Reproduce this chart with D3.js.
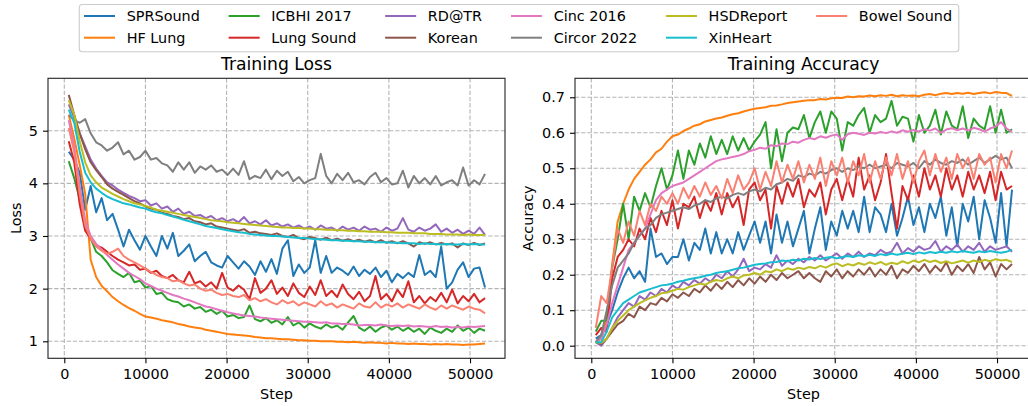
<!DOCTYPE html>
<html>
<head>
<meta charset="utf-8">
<script src="https://cdn.jsdelivr.net/npm/d3@7"></script>
<style>
  body { margin: 0; background: #fff; }
  svg { display: block; }
  text { font-family: "DejaVu Sans", sans-serif; fill: #000; }
</style>
</head>
<body>
<svg id="chart" width="1028" height="406"></svg>
<script>
// logged training steps (shared by all series)
const steps = [550,1225,1900,2575,3250,3925,4600,5275,5950,6625,
  7300,7975,8650,9325,10000,10675,11350,12025,12700,13375,
  14050,14725,15400,16075,16750,17425,18100,18775,19450,20125,
  20800,21475,22150,22825,23500,24175,24850,25525,26200,26875,
  27550,28225,28900,29575,30250,30925,31600,32275,32950,33625,
  34300,34975,35650,36325,37000,37675,38350,39025,39700,40375,
  41050,41725,42400,43075,43750,44425,45100,45775,46450,47125,
  47800,48475,49150,49825,50500,51175,51850];

const datasets = ["SPRSound", "HF Lung", "ICBHI 2017", "Lung Sound", "RD@TR", "Korean",
  "Cinc 2016", "Circor 2022", "HSDReport", "XinHeart", "Bowel Sound"];
const colors = ["#1f77b4", "#ff7f0e", "#2ca02c", "#d62728", "#9467bd", "#8c564b",
  "#e377c2", "#7f7f7f", "#bcbd22", "#17becf", "#fa8072"];

const stepTicks = [0, 10000, 20000, 30000, 40000, 50000];
const lossTicks = [1, 2, 3, 4, 5];
const accTicks = [0, 0.1, 0.2, 0.3, 0.4, 0.5, 0.6, 0.7];

// ---- training loss ----
const lossSpr = [4.60,4.45,4.20,3.50,3.95,3.45,3.72,3.30,3.42,3.12,
  2.80,3.12,2.92,2.74,3.00,2.80,2.62,3.00,2.76,3.06,
  2.62,2.72,2.84,2.52,2.62,2.70,2.50,2.44,2.40,2.62,
  2.50,2.38,2.52,2.42,2.26,2.52,2.32,2.56,2.28,2.76,
  2.92,2.24,2.46,2.30,2.40,2.92,2.30,2.62,2.30,2.40,
  2.34,2.26,2.42,2.24,2.36,2.28,2.40,2.22,2.34,2.12,
  2.28,2.20,2.30,2.22,2.64,2.26,2.34,2.22,2.80,2.00,
  2.12,2.36,2.50,2.22,2.38,2.40,2.02];
const lossHf = [5.30,4.85,4.35,3.80,2.55,2.22,2.05,1.95,1.84,1.76,
  1.69,1.63,1.58,1.52,1.47,1.45,1.43,1.40,1.38,1.36,
  1.33,1.31,1.28,1.26,1.25,1.22,1.20,1.18,1.16,1.14,
  1.13,1.12,1.11,1.10,1.08,1.07,1.06,1.06,1.05,1.04,
  1.04,1.03,1.02,1.02,1.01,1.01,1.00,1.00,1.00,0.99,
  0.99,0.98,0.99,0.98,0.97,0.98,0.97,0.97,0.96,0.97,
  0.96,0.96,0.95,0.96,0.95,0.95,0.94,0.95,0.94,0.95,
  0.94,0.94,0.93,0.94,0.94,0.95,0.96];
const lossIcbhi = [4.42,4.10,3.70,3.15,2.95,2.70,2.62,2.50,2.35,2.28,
  2.22,2.30,2.12,2.15,2.02,2.05,1.90,1.92,1.80,1.76,
  1.74,1.66,1.70,1.62,1.65,1.56,1.60,1.52,1.58,1.47,
  1.50,1.44,1.46,1.68,1.42,1.38,1.44,1.35,1.40,1.32,
  1.46,1.30,1.36,1.26,1.34,1.28,1.24,1.32,1.26,1.30,
  1.22,1.36,1.48,1.26,1.20,1.28,1.18,1.26,1.30,1.22,
  1.28,1.20,1.26,1.18,1.24,1.14,1.26,1.20,1.16,1.24,
  1.18,1.30,1.20,1.26,1.16,1.24,1.20];
const lossLung = [4.80,4.40,3.60,3.10,2.95,2.82,2.78,2.70,2.62,2.55,
  2.50,2.44,2.46,2.36,2.38,2.30,2.34,2.24,2.20,2.26,
  2.16,2.12,2.32,2.10,2.14,2.04,2.12,2.00,2.30,2.02,
  1.96,2.06,1.98,1.80,2.20,1.92,2.00,2.16,1.90,2.02,
  1.86,2.10,1.92,1.84,2.04,1.88,2.16,1.86,1.96,1.84,
  2.08,1.90,1.80,1.94,1.76,1.86,2.24,1.80,1.90,1.76,
  1.98,1.84,2.14,1.74,1.86,1.72,1.84,1.76,1.92,1.74,
  1.98,1.72,1.86,1.76,1.90,1.74,1.82];
const lossRd = [5.50,5.25,4.95,4.70,4.45,4.28,4.14,4.02,3.96,3.88,
  3.82,3.76,3.72,3.66,3.68,3.58,3.62,3.52,3.56,3.46,
  3.52,3.42,3.46,3.38,3.40,3.34,3.38,3.30,3.34,3.28,
  3.32,3.26,3.36,3.24,3.28,3.22,3.30,3.20,3.24,3.18,
  3.22,3.16,3.20,3.14,3.18,3.12,3.20,3.14,3.16,3.10,
  3.18,3.12,3.16,3.10,3.18,3.12,3.14,3.08,3.16,3.10,
  3.14,3.34,3.12,3.08,3.16,3.10,3.14,3.22,3.08,3.14,
  3.06,3.12,3.04,3.10,3.04,3.16,3.02];
const lossKorean = [5.68,5.30,4.95,4.65,4.40,4.25,4.12,3.98,3.90,3.84,
  3.78,3.72,3.66,3.62,3.56,3.52,3.50,3.44,3.42,3.38,
  3.36,3.32,3.34,3.28,3.26,3.22,3.24,3.18,3.16,3.14,
  3.12,3.10,3.13,3.06,3.08,3.05,3.04,3.02,3.05,3.00,
  2.98,3.02,2.96,2.94,2.98,2.96,2.93,2.97,2.92,2.95,
  2.91,2.94,2.90,2.93,2.89,2.92,2.88,2.92,2.87,2.90,
  2.86,2.90,2.86,2.80,2.88,2.85,2.88,2.84,2.87,2.84,
  2.86,2.78,2.86,2.83,2.87,2.83,2.86];
const lossCinc = [5.20,4.70,3.95,3.30,3.00,2.85,2.74,2.64,2.55,2.46,
  2.38,2.30,2.24,2.18,2.10,2.05,2.00,1.96,1.92,1.88,
  1.85,1.81,1.78,1.74,1.70,1.66,1.64,1.61,1.58,1.55,
  1.53,1.51,1.49,1.48,1.47,1.45,1.44,1.43,1.42,1.41,
  1.40,1.39,1.38,1.37,1.37,1.36,1.35,1.36,1.34,1.34,
  1.33,1.33,1.32,1.30,1.31,1.31,1.30,1.32,1.30,1.29,
  1.30,1.29,1.30,1.28,1.29,1.28,1.27,1.29,1.27,1.28,
  1.26,1.27,1.26,1.28,1.27,1.28,1.29];
const lossCircor = [5.30,5.20,5.15,5.22,4.95,4.78,4.72,4.62,4.68,4.78,
  4.55,4.62,4.45,4.50,4.62,4.45,4.48,4.38,4.34,4.22,
  4.40,4.26,4.40,4.20,4.32,4.26,4.34,4.22,4.26,4.16,
  4.28,4.16,4.42,4.08,4.14,4.10,4.26,4.08,4.24,4.14,
  4.22,4.04,4.12,4.00,4.06,4.10,4.56,4.14,4.00,4.18,
  4.06,4.20,4.02,4.06,3.98,4.12,4.20,4.02,4.10,3.98,
  4.00,4.24,3.92,4.14,4.00,4.10,3.98,4.14,3.96,4.02,
  4.06,3.96,4.30,3.96,4.06,3.98,4.18];
const lossHsd = [5.58,5.30,4.80,4.40,4.15,4.02,3.92,3.86,3.80,3.75,
  3.70,3.66,3.62,3.60,3.57,3.54,3.50,3.48,3.46,3.44,
  3.42,3.40,3.38,3.36,3.34,3.32,3.30,3.29,3.28,3.26,
  3.25,3.24,3.23,3.22,3.21,3.20,3.19,3.18,3.17,3.16,
  3.16,3.15,3.15,3.14,3.14,3.13,3.13,3.12,3.12,3.11,
  3.11,3.10,3.10,3.09,3.09,3.08,3.08,3.08,3.07,3.07,
  3.06,3.06,3.06,3.05,3.05,3.05,3.04,3.04,3.04,3.03,
  3.03,3.03,3.02,3.03,3.02,3.02,3.02];
const lossXin = [5.40,5.15,4.60,4.20,4.02,3.90,3.82,3.75,3.70,3.66,
  3.62,3.60,3.57,3.54,3.52,3.48,3.45,3.43,3.40,3.37,
  3.34,3.31,3.28,3.25,3.22,3.19,3.17,3.15,3.13,3.11,
  3.09,3.07,3.06,3.04,3.03,3.02,3.01,3.00,3.00,2.99,
  2.98,2.97,2.96,2.96,2.95,2.94,2.94,2.93,2.92,2.92,
  2.91,2.91,2.90,2.90,2.89,2.89,2.88,2.88,2.88,2.87,
  2.87,2.86,2.86,2.86,2.85,2.86,2.85,2.85,2.84,2.85,
  2.84,2.84,2.85,2.84,2.85,2.84,2.84];
const lossBowel = [5.05,4.60,3.80,3.20,2.95,2.80,2.72,2.66,2.70,2.76,
  2.62,2.55,2.50,2.44,2.38,2.32,2.26,2.22,2.20,2.14,
  2.16,2.10,2.06,2.08,2.00,1.96,1.98,1.92,1.88,1.90,
  1.86,1.84,1.88,1.78,1.82,1.76,1.80,1.74,1.70,1.78,
  1.72,1.76,1.68,1.74,1.70,1.66,1.76,1.68,1.72,1.64,
  1.70,1.66,1.62,1.72,1.66,1.64,1.74,1.64,1.70,1.66,
  1.72,1.64,1.70,1.66,1.62,1.70,1.64,1.60,1.68,1.62,
  1.68,1.64,1.60,1.66,1.62,1.60,1.53];

// ---- training accuracy ----
const accSpr = [0.02,0.03,0.06,0.10,0.15,0.19,0.22,0.19,0.21,0.18,
  0.33,0.25,0.26,0.23,0.25,0.25,0.30,0.24,0.29,0.27,
  0.33,0.26,0.32,0.26,0.30,0.26,0.32,0.27,0.31,0.35,
  0.29,0.35,0.26,0.37,0.29,0.35,0.28,0.33,0.38,0.26,
  0.33,0.39,0.27,0.35,0.31,0.38,0.33,0.38,0.32,0.42,
  0.32,0.39,0.37,0.32,0.40,0.31,0.36,0.42,0.34,0.39,
  0.32,0.40,0.36,0.42,0.31,0.39,0.28,0.40,0.35,0.42,
  0.30,0.41,0.36,0.29,0.43,0.28,0.44];
const accHf = [0.01,0.02,0.08,0.23,0.35,0.40,0.44,0.47,0.49,0.51,
  0.525,0.545,0.555,0.575,0.59,0.595,0.605,0.612,0.62,0.624,
  0.632,0.636,0.64,0.643,0.648,0.652,0.655,0.66,0.664,0.668,
  0.67,0.672,0.676,0.677,0.68,0.684,0.686,0.688,0.69,0.692,
  0.692,0.695,0.694,0.697,0.699,0.698,0.702,0.70,0.703,0.702,
  0.705,0.703,0.706,0.704,0.707,0.703,0.706,0.704,0.705,0.703,
  0.707,0.709,0.706,0.71,0.712,0.709,0.712,0.71,0.713,0.709,
  0.712,0.714,0.711,0.715,0.713,0.712,0.704];
const accIcbhi = [0.04,0.07,0.07,0.22,0.30,0.40,0.30,0.42,0.38,0.43,
  0.39,0.45,0.50,0.44,0.48,0.55,0.47,0.55,0.51,0.57,
  0.53,0.59,0.54,0.58,0.54,0.59,0.55,0.585,0.55,0.575,
  0.595,0.63,0.50,0.61,0.52,0.60,0.615,0.61,0.65,0.585,
  0.63,0.66,0.60,0.66,0.64,0.55,0.63,0.62,0.65,0.67,
  0.60,0.65,0.63,0.64,0.69,0.62,0.645,0.64,0.575,0.65,
  0.60,0.62,0.665,0.595,0.66,0.62,0.61,0.675,0.585,0.64,
  0.62,0.61,0.675,0.60,0.665,0.60,0.61];
const accLung = [0.03,0.05,0.04,0.19,0.25,0.27,0.30,0.28,0.33,0.30,
  0.36,0.32,0.38,0.34,0.41,0.33,0.40,0.39,0.42,0.36,
  0.41,0.38,0.43,0.37,0.43,0.39,0.42,0.34,0.44,0.46,
  0.41,0.44,0.33,0.45,0.40,0.46,0.42,0.47,0.39,0.44,
  0.42,0.46,0.37,0.44,0.47,0.41,0.47,0.42,0.53,0.44,
  0.48,0.41,0.46,0.54,0.43,0.33,0.45,0.41,0.48,0.42,
  0.50,0.44,0.48,0.42,0.50,0.44,0.48,0.42,0.49,0.44,
  0.48,0.43,0.49,0.41,0.49,0.44,0.45];
const accRd = [0.01,0.0,0.02,0.05,0.08,0.10,0.12,0.11,0.14,0.13,
  0.15,0.14,0.16,0.15,0.17,0.16,0.18,0.17,0.185,0.175,
  0.19,0.18,0.20,0.19,0.21,0.195,0.215,0.245,0.21,0.22,
  0.215,0.23,0.22,0.255,0.225,0.24,0.23,0.245,0.235,0.25,
  0.24,0.255,0.24,0.25,0.26,0.245,0.26,0.25,0.265,0.25,
  0.26,0.255,0.27,0.26,0.265,0.29,0.26,0.275,0.265,0.28,
  0.27,0.275,0.295,0.265,0.28,0.27,0.285,0.265,0.28,0.27,
  0.29,0.265,0.28,0.27,0.275,0.28,0.265];
const accKorean = [0.01,0.005,0.02,0.04,0.06,0.07,0.09,0.08,0.11,0.10,
  0.12,0.115,0.135,0.125,0.145,0.135,0.15,0.14,0.16,0.15,
  0.17,0.155,0.175,0.16,0.18,0.165,0.185,0.17,0.19,0.175,
  0.195,0.18,0.20,0.185,0.205,0.19,0.20,0.21,0.19,0.205,
  0.19,0.18,0.21,0.195,0.215,0.19,0.21,0.195,0.215,0.20,
  0.22,0.195,0.215,0.20,0.225,0.19,0.215,0.205,0.225,0.21,
  0.23,0.205,0.225,0.21,0.235,0.20,0.225,0.21,0.23,0.205,
  0.25,0.215,0.235,0.195,0.23,0.215,0.23];
const accCinc = [0.01,0.02,0.06,0.12,0.17,0.22,0.27,0.29,0.31,0.33,
  0.37,0.41,0.43,0.44,0.45,0.455,0.46,0.47,0.48,0.49,
  0.50,0.51,0.52,0.525,0.528,0.532,0.535,0.54,0.548,0.552,
  0.558,0.555,0.565,0.562,0.57,0.568,0.575,0.572,0.58,0.585,
  0.582,0.59,0.586,0.592,0.595,0.58,0.596,0.60,0.597,0.594,
  0.60,0.598,0.602,0.599,0.604,0.60,0.607,0.603,0.608,0.604,
  0.61,0.606,0.612,0.60,0.609,0.613,0.607,0.612,0.606,0.614,
  0.61,0.603,0.612,0.618,0.63,0.612,0.603];
const accCircor = [0.01,0.03,0.10,0.17,0.22,0.24,0.26,0.29,0.31,0.33,
  0.34,0.36,0.37,0.375,0.38,0.385,0.39,0.385,0.395,0.40,
  0.41,0.405,0.415,0.42,0.415,0.425,0.43,0.425,0.435,0.44,
  0.435,0.445,0.44,0.455,0.46,0.47,0.465,0.48,0.475,0.485,
  0.48,0.49,0.485,0.495,0.50,0.49,0.50,0.495,0.505,0.50,
  0.51,0.50,0.505,0.51,0.50,0.515,0.51,0.505,0.515,0.50,
  0.52,0.51,0.525,0.515,0.51,0.52,0.515,0.525,0.51,0.52,
  0.53,0.515,0.525,0.535,0.525,0.53,0.50];
const accHsd = [0.01,0.008,0.02,0.05,0.07,0.085,0.10,0.11,0.12,0.128,
  0.135,0.14,0.148,0.15,0.155,0.16,0.158,0.165,0.17,0.175,
  0.172,0.18,0.185,0.182,0.19,0.195,0.19,0.198,0.20,0.205,
  0.20,0.21,0.207,0.215,0.21,0.218,0.214,0.22,0.216,0.222,
  0.218,0.225,0.22,0.228,0.232,0.224,0.23,0.226,0.233,0.228,
  0.235,0.23,0.236,0.228,0.234,0.23,0.238,0.232,0.24,0.235,
  0.242,0.236,0.24,0.233,0.238,0.232,0.236,0.24,0.234,0.24,
  0.236,0.242,0.238,0.244,0.24,0.242,0.236];
const accXin = [0.01,0.01,0.04,0.08,0.10,0.12,0.13,0.14,0.15,0.155,
  0.16,0.165,0.17,0.172,0.175,0.18,0.183,0.187,0.19,0.193,
  0.197,0.20,0.205,0.208,0.21,0.214,0.218,0.22,0.224,0.228,
  0.23,0.232,0.235,0.236,0.24,0.238,0.242,0.24,0.245,0.243,
  0.247,0.244,0.248,0.25,0.246,0.25,0.253,0.25,0.255,0.252,
  0.256,0.253,0.258,0.255,0.26,0.256,0.259,0.262,0.258,0.263,
  0.26,0.264,0.261,0.265,0.262,0.266,0.263,0.267,0.264,0.262,
  0.266,0.263,0.267,0.264,0.262,0.265,0.27];
const accBowel = [0.05,0.14,0.12,0.22,0.33,0.29,0.35,0.31,0.38,0.34,
  0.40,0.38,0.42,0.40,0.43,0.40,0.445,0.415,0.45,0.42,
  0.46,0.425,0.45,0.415,0.47,0.43,0.48,0.44,0.46,0.50,
  0.44,0.49,0.45,0.52,0.46,0.51,0.47,0.52,0.46,0.51,
  0.47,0.53,0.45,0.52,0.48,0.53,0.46,0.52,0.48,0.54,
  0.46,0.52,0.47,0.53,0.48,0.54,0.47,0.52,0.46,0.52,
  0.55,0.48,0.54,0.49,0.53,0.47,0.54,0.50,0.53,0.47,
  0.54,0.51,0.53,0.46,0.54,0.50,0.55];

const lossSeries = [lossSpr, lossHf, lossIcbhi, lossLung, lossRd, lossKorean,
  lossCinc, lossCircor, lossHsd, lossXin, lossBowel];
const accSeries = [accSpr, accHf, accIcbhi, accLung, accRd, accKorean,
  accCinc, accCircor, accHsd, accXin, accBowel];

const svg = d3.select("#chart");
const tickFont = 14.4, titleFont = 17.2;
const plotTop = 78.3, plotBottom = 358.3;

const panels = [
  { title: "Training Loss", ylabel: "Loss", series: lossSeries, left: 48, right: 505,
    yDomain: [0.677, 5.995], yTicks: lossTicks, fmt: d3.format("d"), ylabelX: 20.7 },
  { title: "Training Accuracy", ylabel: "Accuracy", series: accSeries, left: 575, right: 1032,
    yDomain: [-0.0355, 0.7535], yTicks: accTicks, fmt: d3.format(".1f"), ylabelX: 532.8 }
];

panels.forEach(p => {
  const x = d3.scaleLinear().domain([-2009, 54311]).range([p.left, p.right]);
  const y = d3.scaleLinear().domain(p.yDomain).range([plotBottom, plotTop]);
  const g = svg.append("g");

  // dashed grid
  g.selectAll(".gx").data(stepTicks).enter().append("line")
    .attr("x1", d => x(d)).attr("x2", d => x(d))
    .attr("y1", plotTop).attr("y2", plotBottom);
  g.selectAll(".gy").data(p.yTicks).enter().append("line")
    .attr("x1", p.left).attr("x2", p.right)
    .attr("y1", d => y(d)).attr("y2", d => y(d));
  g.selectAll("line")
    .attr("stroke", "#b4b4b4")
    .attr("stroke-width", 1.1)
    .attr("stroke-dasharray", "4.3,1.9");

  // series
  const line = d3.line()
    .x((d, i) => x(steps[i]))
    .y(d => y(d));
  g.selectAll("path.series")
    .data(p.series)
    .enter()
    .append("path")
    .attr("class", "series")
    .attr("d", line)
    .attr("fill", "none")
    .attr("stroke", (d, i) => colors[i])
    .attr("stroke-width", 2)
    .attr("stroke-linejoin", "round");

  // spines
  g.append("rect")
    .attr("x", p.left).attr("y", plotTop)
    .attr("width", p.right - p.left).attr("height", plotBottom - plotTop)
    .attr("fill", "none")
    .attr("stroke", "#222")
    .attr("stroke-width", 1.1);

  // axes
  const xAxis = g.append("g")
    .attr("transform", `translate(0,${plotBottom})`)
    .call(d3.axisBottom(x).tickValues(stepTicks).tickFormat(d3.format("d")).tickSize(5).tickPadding(5));
  const yAxis = g.append("g")
    .attr("transform", `translate(${p.left},0)`)
    .call(d3.axisLeft(y).tickValues(p.yTicks).tickFormat(p.fmt).tickSize(5).tickPadding(5));
  [xAxis, yAxis].forEach(a => {
    a.select(".domain").remove();
    a.selectAll("line").attr("stroke", "#000").attr("stroke-width", 1.1);
    a.selectAll("text")
      .attr("font-size", tickFont)
      .attr("font-family", "DejaVu Sans, sans-serif")
      .attr("fill", "#000");
  });

  // titles and labels
  const cx = (p.left + p.right) / 2;
  g.append("text")
    .attr("x", cx).attr("y", 70)
    .attr("text-anchor", "middle")
    .attr("font-size", titleFont)
    .text(p.title);
  g.append("text")
    .attr("x", cx).attr("y", 398.8)
    .attr("text-anchor", "middle")
    .attr("font-size", tickFont)
    .text("Step");
  g.append("text")
    .attr("transform", `translate(${p.ylabelX},${(plotTop + plotBottom) / 2}) rotate(-90)`)
    .attr("text-anchor", "middle")
    .attr("font-size", tickFont)
    .text(p.ylabel);
});

// legend: 2 rows, filled column by column
const legend = svg.append("g");
const frame = legend.append("rect");
const rowY = [16, 37.7];
let colX = 84;
let lastEnd = colX;
for (let c = 0; c * 2 < datasets.length; c++) {
  let maxW = 0;
  [0, 1].forEach(r => {
    const i = c * 2 + r;
    if (i >= datasets.length) return;
    legend.append("line")
      .attr("x1", colX).attr("x2", colX + 31)
      .attr("y1", rowY[r]).attr("y2", rowY[r])
      .attr("stroke", colors[i])
      .attr("stroke-width", 2);
    const t = legend.append("text")
      .attr("x", colX + 42.7).attr("y", rowY[r] + 5.4)
      .attr("font-size", tickFont)
      .text(datasets[i]);
    maxW = Math.max(maxW, t.node().getComputedTextLength());
  });
  lastEnd = colX + 42.7 + maxW;
  colX = lastEnd + 28.8;
}
frame
  .attr("x", 79.3).attr("y", 4.5)
  .attr("width", lastEnd + 6.7 - 79.3).attr("height", 47.2)
  .attr("rx", 3)
  .attr("fill", "#fff").attr("fill-opacity", 0.8)
  .attr("stroke", "#cccccc")
  .attr("stroke-width", 1.1);
</script>
</body>
</html>
